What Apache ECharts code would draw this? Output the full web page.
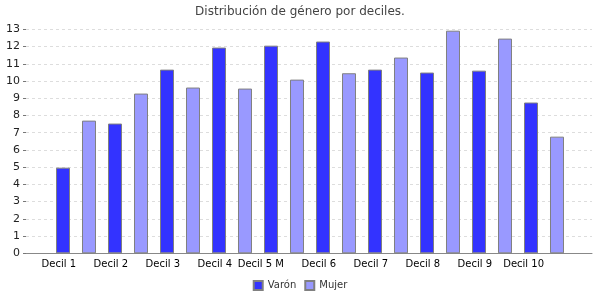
<!DOCTYPE html>
<html>
<head>
<meta charset="utf-8">
<script src="https://cdn.jsdelivr.net/npm/echarts@6/dist/echarts.min.js"></script>
<style>
  html, body { margin: 0; padding: 0; background: #fff; }
  #main { width: 600px; height: 300px; }
</style>
</head>
<body>
<div id="main"></div>
<script>
// 数据
var titleText = 'Distribución de género por deciles.';
var categories = ['Decil 1', 'Decil 2', 'Decil 3', 'Decil 4', 'Decil 5 M', 'Decil 6', 'Decil 7', 'Decil 8', 'Decil 9', 'Decil 10'];
var varonValues = [4.97, 7.53, 10.66, 11.94, 12.05, 12.29, 10.66, 10.49, 10.60, 8.75];
var mujerValues = [7.70, 9.27, 9.62, 9.56, 10.08, 10.45, 11.36, 12.92, 12.46, 6.77];
var yMin = 0, yMax = 13, yStep = 1;

(function () {
  // 1.初始化echarts实例对象
  var myChart = echarts.init(document.getElementById("main"));

  var font = 'DejaVu Sans';

  // 2.指定配置项与数据
  var option = {
    animation: false,
    title: {
      text: titleText,
      left: 'center',
      top: 1,
      textStyle: { fontFamily: font, fontSize: 12, fontWeight: 'normal', color: '#444' }
    },
    legend: {
      bottom: 4,
      left: 'center',
      itemWidth: 9,
      itemHeight: 9,
      itemGap: 8,
      icon: 'rect',
      textStyle: { fontFamily: font, fontSize: 10, color: '#333' },
      data: ['Varón', 'Mujer']
    },
    grid: [
      // 背景网格（y轴、网格线、x轴线）
      { left: 26, right: 8, top: 29.3, bottom: 46.7 },
      // 柱形区域
      { left: 50, right: 30, top: 29.3, bottom: 46.7 }
    ],
    xAxis: [
      {
        gridIndex: 0,
        type: 'value',
        min: 0,
        max: 1,
        axisLine: { show: true, lineStyle: { color: '#888' } },
        axisTick: { show: false },
        axisLabel: { show: false },
        splitLine: { show: false }
      },
      {
        gridIndex: 1,
        type: 'category',
        data: categories,
        axisLine: { show: false },
        axisTick: { show: false },
        axisLabel: {
          align: 'right',
          margin: 6,
          fontFamily: font,
          fontSize: 10,
          color: '#000',
          interval: 0
        }
      }
    ],
    yAxis: [
      {
        gridIndex: 0,
        type: 'value',
        min: yMin,
        max: yMax,
        interval: yStep,
        axisLine: { show: false },
        axisTick: { show: true, length: 3, lineStyle: { color: '#777' } },
        axisLabel: { margin: 6, fontFamily: font, fontSize: 11, color: '#222' },
        splitLine: { lineStyle: { type: [3, 3], color: '#ddd' } }
      },
      {
        gridIndex: 1,
        type: 'value',
        min: yMin,
        max: yMax,
        interval: yStep,
        show: false,
        splitLine: { show: false }
      }
    ],
    series: [
      {
        name: 'Varón',
        type: 'bar',
        xAxisIndex: 1,
        yAxisIndex: 1,
        barWidth: 14,
        barGap: '85.7%',
        itemStyle: { color: '#3333ff', borderColor: '#808080', borderWidth: 1 },
        data: varonValues
      },
      {
        name: 'Mujer',
        type: 'bar',
        xAxisIndex: 1,
        yAxisIndex: 1,
        barWidth: 14,
        barGap: '85.7%',
        itemStyle: { color: '#9999ff', borderColor: '#808080', borderWidth: 1 },
        data: mujerValues
      }
    ]
  };

  // 3.将配置项设置给echarts实例对象
  myChart.setOption(option);
  // 4. 让图表跟随屏幕自动的去适应
  window.addEventListener("resize", function () {
    myChart.resize();
  });
})();
</script>
</body>
</html>
